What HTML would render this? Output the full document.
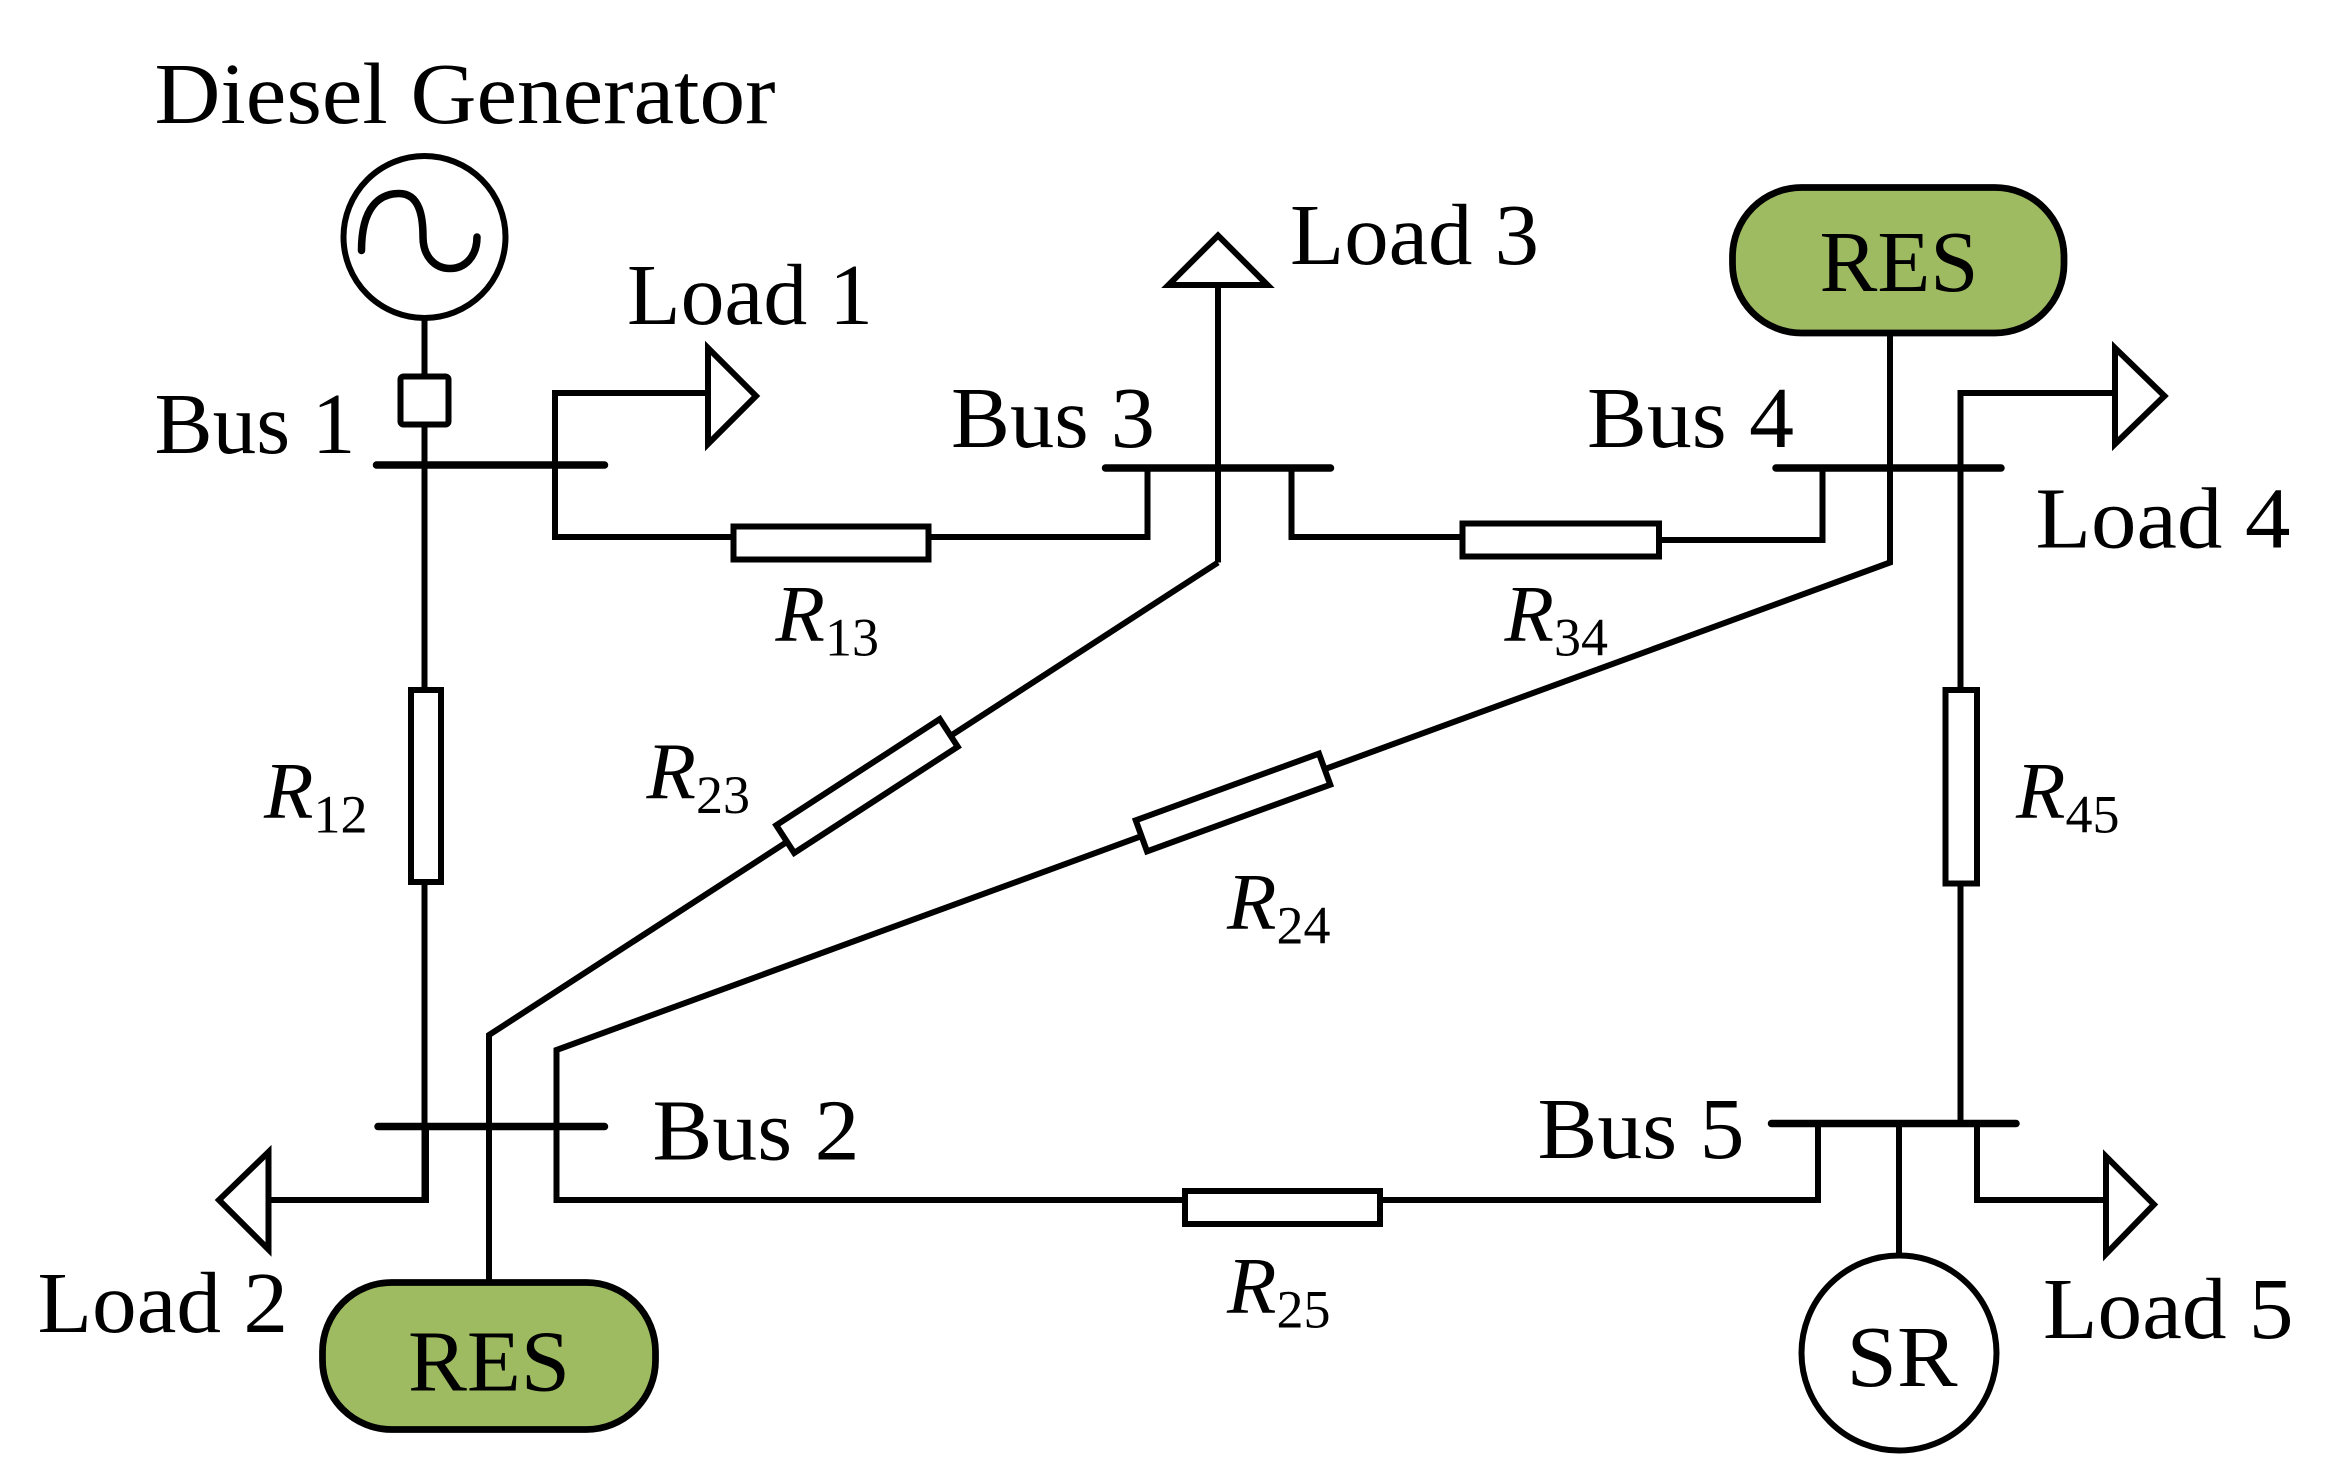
<!DOCTYPE html>
<html><head><meta charset="utf-8"><style>
html,body{margin:0;padding:0;background:#fff;}
svg{display:block;}
text{font-family:"Liberation Serif",serif;fill:#000;}
</style></head><body>
<svg width="2352" height="1476" viewBox="0 0 1568 984" xmlns="http://www.w3.org/2000/svg">
<g fill="none" stroke="#000" stroke-width="4" stroke-linejoin="miter">
<!-- generator -->
<circle cx="283" cy="158" r="54"/>
<path d="M253,177 C253,148 265,139 278,139 C292,139 294,155 294,168 C294,181 302,189 312,189 C322,189 330,181 330,168" stroke-width="5" stroke-linecap="round" transform="translate(-12,-10)"/>
<line x1="283" y1="212" x2="283" y2="250"/>
<rect x="267" y="251" width="32" height="32" rx="2"/>
<line x1="283" y1="284" x2="283" y2="460"/>
<!-- R12 -->
<rect x="274" y="460" width="20" height="128"/>
<line x1="283" y1="588" x2="283" y2="800"/>
<!-- bus bars -->
<line x1="251" y1="310" x2="403" y2="310" stroke-width="5" stroke-linecap="round"/>
<line x1="737" y1="312" x2="887" y2="312" stroke-width="5" stroke-linecap="round"/>
<line x1="1184" y1="312" x2="1334" y2="312" stroke-width="5" stroke-linecap="round"/>
<line x1="252" y1="751" x2="403" y2="751" stroke-width="5" stroke-linecap="round"/>
<line x1="1181" y1="749" x2="1344" y2="749" stroke-width="5" stroke-linecap="round"/>
<!-- Load1 -->
<polyline points="370,310 370,262 471,262"/>
<polygon points="472,232 504,264 472,296"/>
<!-- R13 path -->
<polyline points="370,310 370,358 489,358"/>
<rect x="489" y="351" width="130" height="22"/>
<polyline points="619,358 765,358 765,312"/>
<!-- Load3 -->
<line x1="812" y1="375" x2="812" y2="190"/>
<polygon points="779,190 845,190 812,157"/>
<!-- R23 path -->
<polyline points="812,375 326,690 326,855"/>
<g transform="translate(578,524) rotate(-33)"><rect x="-65" y="-11" width="130" height="22" fill="#fff"/></g>
<!-- R34 -->
<polyline points="861,312 861,358 975,358"/>
<rect x="975" y="349" width="131" height="22"/>
<polyline points="1106,360 1215,360 1215,312"/>
<!-- RES top line & R24 -->
<polyline points="1260,222 1260,375 371,700 371,800 790,800"/>
<g transform="translate(822,535) rotate(-20)"><rect x="-65" y="-11" width="130" height="22" fill="#fff"/></g>
<!-- R25 -->
<rect x="790" y="794" width="130" height="22"/>
<polyline points="920,800 1212,800 1212,749"/>
<!-- Load4 / R45 -->
<polyline points="1410,262 1307,262 1307,460"/>
<polygon points="1410,232 1443,264 1410,296"/>
<rect x="1297" y="460" width="21" height="129"/>
<line x1="1307" y1="589" x2="1307" y2="749"/>
<!-- Load2 -->
<polyline points="284,751 284,800 180,800"/>
<polygon points="179,768 146,800 179,833"/>
<!-- Bus5 SR / Load5 -->
<line x1="1266" y1="749" x2="1266" y2="837"/>
<ellipse cx="1266" cy="902" rx="65" ry="65"/>
<polyline points="1318,749 1318,800 1403,800"/>
<polygon points="1404,771 1436,803 1404,836"/>
</g>
<!-- RES boxes -->
<rect x="1155" y="125" width="221" height="97" rx="46" fill="#9fbb62" stroke="#000" stroke-width="4.5"/>
<rect x="215" y="855" width="222" height="98" rx="46" fill="#9fbb62" stroke="#000" stroke-width="4.5"/>
<g font-size="58">
<text x="103" y="82" textLength="414" lengthAdjust="spacingAndGlyphs">Diesel Generator</text>
<text x="103" y="302" textLength="134" lengthAdjust="spacingAndGlyphs">Bus 1</text>
<text x="418" y="216" textLength="164" lengthAdjust="spacingAndGlyphs">Load 1</text>
<text x="634" y="298" textLength="136" lengthAdjust="spacingAndGlyphs">Bus 3</text>
<text x="860" y="176" textLength="166" lengthAdjust="spacingAndGlyphs">Load 3</text>
<text x="1058" y="298" textLength="138" lengthAdjust="spacingAndGlyphs">Bus 4</text>
<text x="1357" y="365" textLength="170" lengthAdjust="spacingAndGlyphs">Load 4</text>
<text x="435" y="773" textLength="138" lengthAdjust="spacingAndGlyphs">Bus 2</text>
<text x="25" y="888" textLength="167" lengthAdjust="spacingAndGlyphs">Load 2</text>
<text x="1025" y="772" textLength="138" lengthAdjust="spacingAndGlyphs">Bus 5</text>
<text x="1362" y="892" textLength="167" lengthAdjust="spacingAndGlyphs">Load 5</text>
<text x="1266" y="194" text-anchor="middle" textLength="106" lengthAdjust="spacingAndGlyphs">RES</text>
<text x="326" y="927" text-anchor="middle" textLength="108" lengthAdjust="spacingAndGlyphs">RES</text>
<text x="1268" y="924" text-anchor="middle" textLength="74" lengthAdjust="spacingAndGlyphs">SR</text>
</g>
<g font-size="54">
<text x="517" y="427" font-style="italic">R<tspan font-size="36" font-style="normal" dy="10">13</tspan></text>
<text x="1003" y="427" font-style="italic">R<tspan font-size="36" font-style="normal" dy="10">34</tspan></text>
<text x="176" y="545" font-style="italic">R<tspan font-size="36" font-style="normal" dy="10">12</tspan></text>
<text x="431" y="532" font-style="italic">R<tspan font-size="36" font-style="normal" dy="10">23</tspan></text>
<text x="818" y="619" font-style="italic">R<tspan font-size="36" font-style="normal" dy="10">24</tspan></text>
<text x="1344" y="545" font-style="italic">R<tspan font-size="36" font-style="normal" dy="10">45</tspan></text>
<text x="818" y="875" font-style="italic">R<tspan font-size="36" font-style="normal" dy="10">25</tspan></text>
</g>
</svg>
</body></html>
